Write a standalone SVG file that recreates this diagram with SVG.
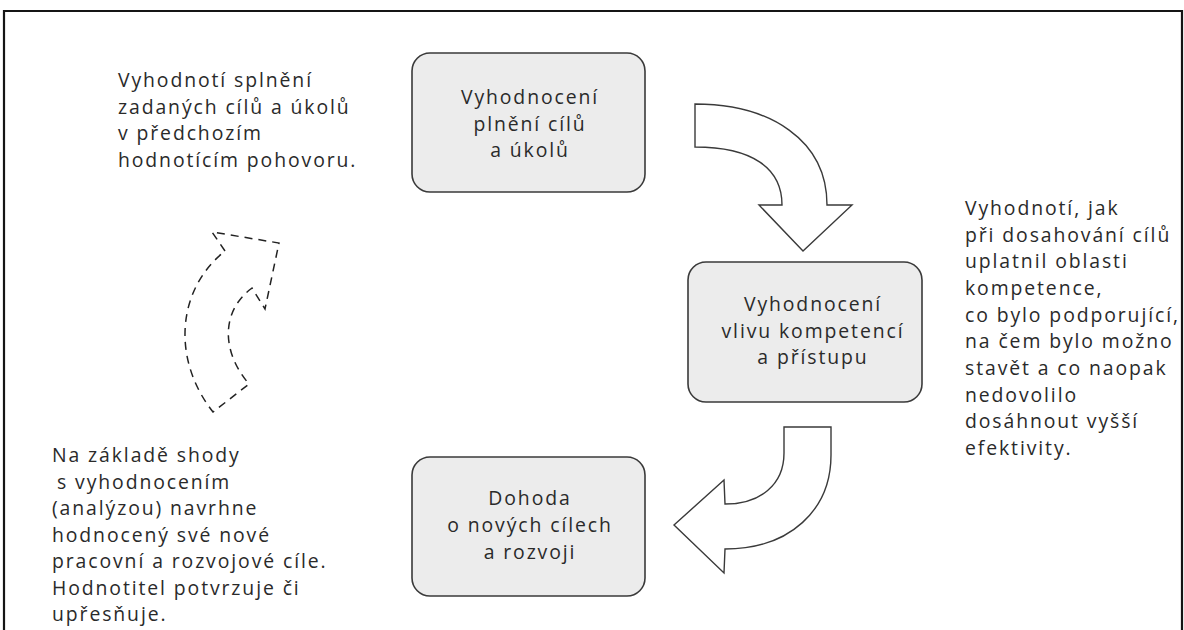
<svg xmlns="http://www.w3.org/2000/svg" width="1184" height="630" viewBox="0 0 1184 630">
<style>
  .t { font-family: "Open Sans", "Noto Sans", "Liberation Sans", sans-serif; font-size: 19.4px; letter-spacing: 1.9px; fill: #2a2a2a; }
  .c { text-anchor: middle; }
  .box { fill: #ececec; stroke: #3a3a3a; stroke-width: 1.6; }
  .arr { fill: #ffffff; stroke: #3a3a3a; stroke-width: 1.4; stroke-linejoin: miter; }
  .dash { fill: none; stroke: #222; stroke-width: 1.5; stroke-dasharray: 8 6; }
</style>
<rect x="0" y="0" width="1184" height="630" fill="#ffffff"/>
<path d="M4,630 L4,11 L1182,11 L1182,630" fill="none" stroke="#151515" stroke-width="2.2"/>

<g id="n1">
  <rect class="box" x="412" y="53" width="233" height="139" rx="18"/>
  <text class="t c"><tspan x="530" y="104">Vyhodnocení</tspan><tspan x="530" y="130.5">plnění cílů</tspan><tspan x="530" y="157">a úkolů</tspan></text>
</g>
<g id="n2">
  <rect class="box" x="688" y="262" width="234" height="140" rx="18"/>
  <text class="t c"><tspan x="813" y="311">Vyhodnocení</tspan><tspan x="813" y="337.5">vlivu kompetencí</tspan><tspan x="813" y="364">a přístupu</tspan></text>
</g>
<g id="n3">
  <rect class="box" x="412" y="457" width="233" height="139" rx="18"/>
  <text class="t c"><tspan x="530" y="505">Dohoda</tspan><tspan x="530" y="532">o nových cílech</tspan><tspan x="530" y="559">a rozvoji</tspan></text>
</g>

<g id="connectors">
  <path class="arr" d="M695,104 C770,104 827,140 827,205 L852,205 L803,251 L759,205 L782,205 C782,168 752,147 695,147 Z"/>
  <path class="arr" d="M784,427 L831,427 L831,455 C831,510 790,549 725,549 L724,573 L674,525 L724,480 L725,504 C760,504 784,485 784,453 Z"/>
  <path class="dash" d="M225,251 L212,232 L279,243 L265,309 L252,288 C222,310 220,350 249,384 L213,412 C172,360 176,290 225,251 Z"/>
</g>

<g id="note-top-left">
  <text class="t"><tspan x="118" y="87">Vyhodnotí splnění</tspan><tspan x="118" y="113.67">zadaných cílů a úkolů</tspan><tspan x="118" y="140.33">v předchozím</tspan><tspan x="118" y="167">hodnotícím pohovoru.</tspan></text>
</g>
<g id="note-right">
  <text class="t"><tspan x="965" y="215">Vyhodnotí, jak</tspan><tspan x="965" y="241.67">při dosahování cílů</tspan><tspan x="965" y="268.33">uplatnil oblasti</tspan><tspan x="965" y="295">kompetence,</tspan><tspan x="965" y="321.67">co bylo podporující,</tspan><tspan x="965" y="348.33">na čem bylo možno</tspan><tspan x="965" y="375">stavět a co naopak</tspan><tspan x="965" y="401.67">nedovolilo</tspan><tspan x="965" y="428.33">dosáhnout vyšší</tspan><tspan x="965" y="455">efektivity.</tspan></text>
</g>
<g id="note-bottom-left">
  <text class="t"><tspan x="52" y="462">Na základě shody</tspan><tspan x="57" y="488.5">s vyhodnocením</tspan><tspan x="52" y="515">(analýzou) navrhne</tspan><tspan x="52" y="541.5">hodnocený své nové</tspan><tspan x="52" y="568">pracovní a rozvojové cíle.</tspan><tspan x="52" y="594.5">Hodnotitel potvrzuje či</tspan><tspan x="52" y="621">upřesňuje.</tspan></text>
</g>
</svg>
